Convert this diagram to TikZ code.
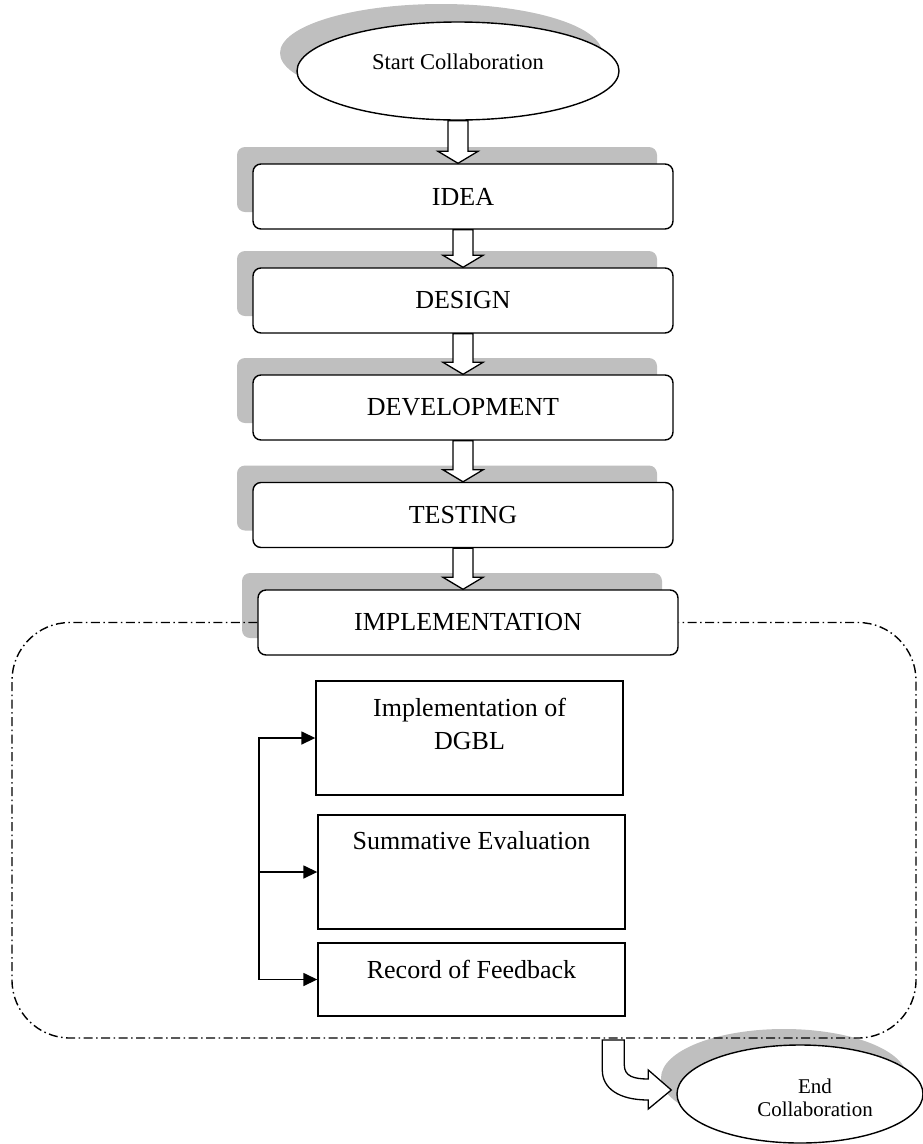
\documentclass[tikz,border=0pt]{standalone}
\usepackage{fontspec}
\setmainfont{Liberation Serif}
\usetikzlibrary{shapes.geometric,shadows,calc,arrows.meta}
\definecolor{shadowgray}{HTML}{BFBFBF}
\tikzset{
  gshadow/.style={drop shadow={shadow xshift=-16pt, shadow yshift=17pt, opacity=1, fill=shadowgray}},
  stage/.style={draw, line width=1.4pt, rounded corners=8pt, fill=white,
    minimum width=420pt, minimum height=65pt, inner sep=0pt,
    font=\fontsize{26}{31}\selectfont, gshadow},
  oval/.style={ellipse, draw, line width=1.4pt, fill=white, inner sep=0pt},
  subbox/.style={draw, line width=1.4pt, fill=white, minimum width=307pt, inner sep=0pt},
  subtext/.style={anchor=north, align=center, font=\fontsize{26}{33}\selectfont, yshift=-14pt},
  barrow/.style={draw, line width=1.3pt, fill=white, line join=miter},
  dashdot/.style={line width=1.4pt, dash pattern=on 9pt off 3.5pt on 1.5pt off 3.5pt},
  bus/.style={line width=1.6pt},
  tip/.style={-{Triangle[length=14pt,width=13pt]}},
}
\newcommand\blockdown[2]{%
  \path[barrow] let \p1=(#1), \p2=(#2) in
   (\x1-10pt,\y1) -- (\x1+10pt,\y1) -- (\x1+10pt,\y2+12pt) -- (\x1+20pt,\y2+12pt)
   -- (\x1,\y2) -- (\x1-20pt,\y2+12pt) -- (\x1-10pt,\y2+12pt) -- cycle;}
\begin{document}
\begin{tikzpicture}[x=1pt,y=-1pt]
\useasboundingbox (0,0) rectangle (923,1144);

% start ellipse
\node[oval, minimum width=322pt, minimum height=98pt,
  drop shadow={shadow xshift=-17pt, shadow yshift=18pt, opacity=1, fill=shadowgray},
  label={[font=\fontsize{22.5}{27}\selectfont, yshift=9pt]center:Start Collaboration}]
  (start) at (458,71) {};

% stages
\node[stage] (idea)  at (463,196.5) {IDEA};
\node[stage] (design) at (463,300.5) {DESIGN};
\node[stage] (devel) at (463,407.5) {DEVELOPMENT};
\node[stage] (test)  at (463,515) {TESTING};
\node[stage] (impl)  at (468,622.5) {IMPLEMENTATION};

% end ellipse
\node[oval, minimum width=246pt, minimum height=98pt,
  drop shadow={shadow xshift=-16pt, shadow yshift=16pt, opacity=1, fill=shadowgray},
  label={[font=\fontsize{21}{23}\selectfont, align=center, xshift=15pt, yshift=-4pt]center:End\\Collaboration}]
  (endc) at (800,1094) {};

% dashed boundary
\coordinate (bl) at (12,1038);
\coordinate (tr) at (916,623);
\draw[dashdot, rounded corners=58pt] (impl.west) -- (impl.west -| bl) -- (bl) -- (bl -| tr)
  -- (impl.east -| tr) -- (impl.east);

% sub boxes
\node[subbox, minimum height=114pt,
  label={[subtext]north:Implementation of\\DGBL}] (b1) at (469.5,738) {};
\node[subbox, minimum height=114pt,
  label={[subtext]north:Summative Evaluation}] (b2) at (471.5,872) {};
\node[subbox, minimum height=73pt,
  label={[subtext]north:Record of Feedback}] (b3) at (471.5,979.5) {};

% bus with arrows
\coordinate (busx) at (259,0);
\draw[bus, {Triangle[length=14pt,width=13pt]}-{Triangle[length=14pt,width=13pt]}]
  (b1.west) -- (b1.west -| busx) -- (b3.west -| busx) -- (b3.west);
\draw[bus, tip] (b2.west -| busx) -- (b2.west);

% block arrows
\blockdown{start.south}{idea.north}
\blockdown{idea.south}{design.north}
\blockdown{design.south}{devel.north}
\blockdown{devel.south}{test.north}
\blockdown{test.south}{impl.north}

% curved block arrow to end
\begin{scope}[shift={(endc.west)}]
\path[barrow] (-74,-54) -- (-52,-54) -- (-52,-29)
  .. controls (-52,-18) and (-43,-15) .. (-28,-15) -- (-28,-24) -- (-5,-4)
  -- (-28,15) -- (-28,6) .. controls (-58,6) and (-74,-6) .. (-74,-24) -- cycle;
\end{scope}
\end{tikzpicture}
\end{document}
